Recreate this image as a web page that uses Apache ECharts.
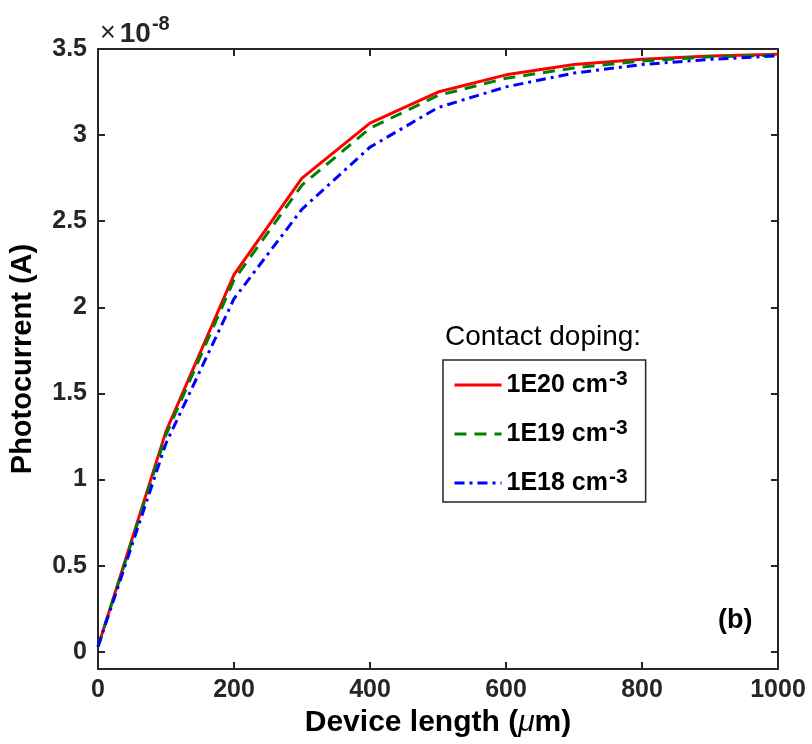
<!DOCTYPE html>
<html>
<head>
<meta charset="utf-8">
<script src="https://cdn.jsdelivr.net/npm/echarts@6/dist/echarts.min.js"></script>
<style>html,body{margin:0;padding:0;background:#fff}#c{width:812px;height:744px}</style>
</head>
<body>
<div id="c"></div>
<script>
// Device length (um)
const lengths = [0, 100, 200, 300, 400, 500, 600, 700, 800, 900, 1000];
// Photocurrent in units of 1e-8 A
const doping1E20 = [0.03, 1.28, 2.19, 2.75, 3.07, 3.25, 3.35, 3.41, 3.44, 3.46, 3.47];
const doping1E19 = [0.03, 1.26, 2.16, 2.71, 3.04, 3.23, 3.33, 3.39, 3.43, 3.455, 3.465];
const doping1E18 = [0.03, 1.21, 2.05, 2.57, 2.93, 3.16, 3.28, 3.36, 3.41, 3.44, 3.46];
const yTicks = [0, 0.5, 1, 1.5, 2, 2.5, 3, 3.5];
const xTicks = [0, 200, 400, 600, 800, 1000];
const seriesNames = ['1E20 cm', '1E19 cm', '1E18 cm'];

const FONT = '"Liberation Sans", Arial, Helvetica, sans-serif';
const AX = '#262626';
const chart = echarts.init(document.getElementById('c'));

function mk(name, data, color, type) {
  return {
    name: name, type: 'line', data: lengths.map((x, i) => [x, data[i]]),
    symbol: 'none', smooth: false,
    lineStyle: { color: color, width: 3, type: type, cap: 'butt' },
    itemStyle: { color: color }
  };
}

const axisCommon = {
  axisLine: { show: true, onZero: false, lineStyle: { color: AX, width: 2 } },
  axisTick: { show: true, inside: true, length: 7, lineStyle: { color: AX, width: 2 } },
  splitLine: { show: false }
};

chart.setOption({
  animation: false,
  backgroundColor: '#fff',
  grid: { left: 98, right: 34, top: 49, bottom: 75, containLabel: false },
  xAxis: [
    Object.assign({}, axisCommon, {
      type: 'value', min: 0, max: 1000, interval: 200, position: 'bottom',
      axisLabel: { color: AX, fontFamily: FONT, fontWeight: 'bold', fontSize: 25, margin: 9,
        customValues: xTicks, formatter: v => String(v) },
      axisTick: Object.assign({}, axisCommon.axisTick, { customValues: xTicks }),
      name: 'Device length ({mu|μ}m)', nameLocation: 'middle', nameGap: 37,
      nameTextStyle: { color: '#000', fontFamily: FONT, fontWeight: 'bold', fontSize: 30,
        rich: { mu: { fontFamily: FONT, fontStyle: 'italic', fontWeight: 'normal', fontSize: 30, color: '#000' } } }
    }),
    Object.assign({}, axisCommon, {
      type: 'value', min: 0, max: 1000, interval: 200, position: 'top',
      axisLabel: { show: false },
      axisTick: Object.assign({}, axisCommon.axisTick, { customValues: xTicks })
    })
  ],
  yAxis: [
    Object.assign({}, axisCommon, {
      type: 'value', min: -0.1, max: 3.5, position: 'left',
      axisLabel: { color: AX, fontFamily: FONT, fontWeight: 'bold', fontSize: 25, margin: 11,
        customValues: yTicks, formatter: v => String(v) },
      axisTick: Object.assign({}, axisCommon.axisTick, { customValues: yTicks }),
      name: 'Photocurrent (A)', nameLocation: 'middle', nameGap: 61,
      nameTextStyle: { color: '#000', fontFamily: FONT, fontWeight: 'bold', fontSize: 29 }
    }),
    Object.assign({}, axisCommon, {
      type: 'value', min: -0.1, max: 3.5, position: 'right',
      axisLabel: { show: false, customValues: yTicks },
      axisTick: Object.assign({}, axisCommon.axisTick, { customValues: yTicks })
    })
  ],
  legend: {
    orient: 'vertical', left: 443, top: 360,
    padding: [9, 18, 4, 10], itemGap: 18,
    itemWidth: 47, itemHeight: 14,
    borderColor: '#262626', borderWidth: 1.5, backgroundColor: '#fff',
    itemStyle: { opacity: 0 },
    lineStyle: { width: 3 },
    data: seriesNames,
    formatter: n => '{n|' + n + '}{s|-3}',
    textStyle: {
      color: '#000',
      rich: {
        n: { fontFamily: FONT, fontWeight: 'bold', fontSize: 25, color: '#000', lineHeight: 32 },
        s: { fontFamily: FONT, fontWeight: 'bold', fontSize: 21, color: '#000', verticalAlign: 'top', lineHeight: 22, padding: [0, 0, 10, 1] }
      }
    }
  },
  graphic: [
    { type: 'text', left: 445, top: 323, style: { text: 'Contact doping:', font: 'normal 28px ' + FONT, fill: '#000' } },
    { type: 'text', left: 100, top: 14, style: {
      text: '{x|×}{t|10}{e|-8}',
      rich: {
        x: { font: 'normal 27px ' + FONT, fill: AX, padding: [6, 4, 0, 0] },
        t: { font: 'bold 28px ' + FONT, fill: AX, padding: [6, 0, 0, 0] },
        e: { font: 'bold 20px ' + FONT, fill: AX, verticalAlign: 'top', padding: [0, 0, 14, 1] }
      } } },
    { type: 'text', left: 718, top: 607, style: { text: '(b)', font: 'bold 27px ' + FONT, fill: '#000' } }
  ],
  series: [
    mk(seriesNames[0], doping1E20, '#ff0000', 'solid'),
    mk(seriesNames[1], doping1E19, '#008000', [12, 8]),
    mk(seriesNames[2], doping1E18, '#0000ff', [10, 5, 3, 5])
  ]
});
</script>
</body>
</html>
